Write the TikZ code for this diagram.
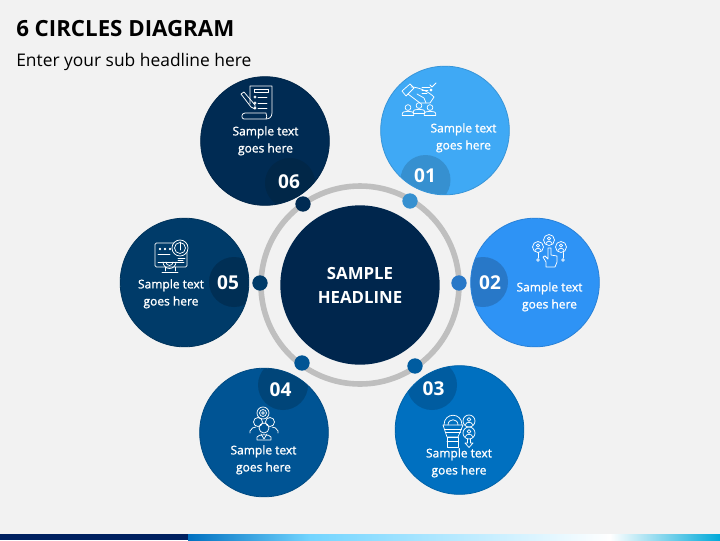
\documentclass[tikz,border=0pt]{standalone}
\usepackage{fontspec}
\setmainfont{Open Sans}
\newfontfamily\semi[FakeBold=1.2]{Open Sans}
\definecolor{bgc}{HTML}{F2F2F2}
\definecolor{cA}{HTML}{3FA9F5}\definecolor{dA}{HTML}{3690D0}
\definecolor{cB}{HTML}{2E93F5}\definecolor{dB}{HTML}{2878C8}
\definecolor{cC}{HTML}{0070C0}\definecolor{dC}{HTML}{005CA0}
\definecolor{cD}{HTML}{005494}\definecolor{dD}{HTML}{004579}
\definecolor{cE}{HTML}{003B69}\definecolor{dE}{HTML}{002F55}
\definecolor{cF}{HTML}{002B53}\definecolor{dF}{HTML}{012748}
\definecolor{cHub}{HTML}{00264D}
\definecolor{ringc}{HTML}{BFBFBF}
\tikzset{
  x=0.75pt,y=-0.75pt,
  bigc/.style={circle,inner sep=0pt,minimum size=96.5pt,draw=#1!88!black,line width=0.6pt,fill=#1},
  dot/.style={circle,inner sep=0pt,minimum size=11.5pt,fill=#1},
  bodytxt/.style={text=white,align=center,font=\semi\fontsize{9}{12.8}\selectfont},
  numtxt/.style={text=white,font=\bfseries\fontsize{14.3}{16}\selectfont},
  ico/.style={draw=white,line width=0.55pt,line join=round,line cap=round}
}
\newcommand\iconperson[3]{%
  \begin{scope}[shift={(#1,#2)},scale=#3]
  \draw[ico] (0,-3) circle [radius=2.5];
  \draw[ico] (-5,4) -- (-5,2.5) .. controls (-5,0.5) and (-2,0.3) .. (0,0.3) .. controls (2,0.3) and (5,0.5) .. (5,2.5) -- (5,4) -- cycle;
  \end{scope}}
\newcommand\badge[4]{%
  \begin{scope}
  \clip (#1,#2) circle [radius=64];
  \fill[#3] (#4) circle [radius=25];
  \end{scope}}
\begin{document}
\begin{tikzpicture}
\useasboundingbox (0,0) rectangle (720,540);
\fill[bgc] (0,0) rectangle (720,540);
% footer band
\fill[color={rgb,255:red,0;green,32;blue,96}] (0,534) rectangle (188,540);
\shade[left color=cC,right color=cyan!70!blue!55] (188,534) rectangle (310,540);
\shade[left color=cyan!70!blue!55,right color=white] (310,534) rectangle (610,540);
\shade[left color=white,right color=cC!60!cyan] (610,534) rectangle (720,540);
% title
\node[anchor=base west,inner sep=0pt,font=\bfseries\fontsize{16.7}{20}\selectfont,text=black] (title) at (16,36) {6 CIRCLES DIAGRAM};
\node[anchor=base west,inner sep=0pt,font=\fontsize{13.05}{16}\selectfont,text=black] (subtitle) at (16,66) {Enter your sub headline here};
% ring and hub
\draw[ringc,line width=4.2pt] (360,285) circle [radius=99];
\node[circle,inner sep=0pt,minimum size=119.5pt,fill=cHub,align=center,text=white,font=\bfseries\fontsize{12.6}{18}\selectfont] (hub) at (360,285) {SAMPLE\\HEADLINE};
% big circles
\node[bigc=cF] (c6) at (265,141) {};
\node[bigc=cA] (c1) at (445,130.5) {};
\node[bigc=cB] (c2) at (535,282.5) {};
\node[bigc=cC] (c3) at (459.5,430) {};
\node[bigc=cD] (c4) at (264,432.5) {};
\node[bigc=cE] (c5) at (184.5,282.5) {};
% badges
\badge{265}{141}{dF}{290,183}
\badge{445}{130.5}{dA}{425.5,180}
\badge{535}{282.5}{dB}{483,282}
\badge{459.5}{430}{dC}{432,385}
\badge{264}{432.5}{dD}{283,385}
\badge{184.5}{282.5}{dE}{234,282}
% dots
\node[dot=cF] (d6) at (303,204) {};
\node[dot=dA] (d1) at (410,201) {};
\node[dot=dB] (d2) at (459,283) {};
\node[dot=dC] (d3) at (415,366) {};
\node[dot=cD] (d4) at (302,363) {};
\node[dot=cE] (d5) at (260,283) {};
% numbers
\node[numtxt] (n6) at (289,181.7) {06};
\node[numtxt] (n1) at (425,175.7) {01};
\node[numtxt] (n2) at (490,282.7) {02};
\node[numtxt] (n3) at (433.5,388.7) {03};
\node[numtxt] (n4) at (280.5,389.7) {04};
\node[numtxt] (n5) at (228,282.7) {05};
% texts
\node[bodytxt] (t6) at (265.5,140.8) {Sample text\\goes here};
\node[bodytxt] (t1) at (463.5,137.8) {Sample text\\goes here};
\node[bodytxt] (t2) at (549.5,296.8) {Sample text\\goes here};
\node[bodytxt] (t3) at (459,462.8) {Sample text\\goes here};
\node[bodytxt] (t4) at (263.5,459.8) {Sample text\\goes here};
\node[bodytxt] (t5) at (171,293.8) {Sample text\\goes here};
% icon 06: checklist and pencil
\draw[ico] (250,104) -- (250,86) -- (272,86) -- (272,113) .. controls (272,118) and (268,119) .. (266,119) -- (244,119) .. controls (241,119) and (241,113) .. (245,113) -- (266,113) .. controls (266,116) and (268,118) .. (266,119);
\draw[ico] (254,89) rectangle (268,92);
\foreach \yy in {97,103,108}{\draw[ico] (255,\yy) circle [radius=1.2]; \draw[ico] (258,\yy) -- (267,\yy);}
\draw[ico] (241,94) -- (244,92) -- (255,105) -- (255,109) -- (251,107) -- cycle;
% icon 01: hand over people
\draw[ico] (402,91) -- (410,84) -- (414,88) -- (406,96) -- cycle;
\draw[ico] (411,87) .. controls (418,87) and (428,91) .. (434,97) -- (430,103) -- (420,103) -- (408,94);
\draw[ico] (417,94) -- (424,98) -- (426,103);
\iconperson{408}{111}{1.15}
\iconperson{419}{109}{1.15}
\iconperson{430}{111}{1.15}
\draw[ico] (422,87) -- (430,87) (422,90) -- (428,90) (422,93) -- (427,93);
\draw[ico] (431,90) circle [radius=1];
\draw[ico] (430,85) -- (432,87) -- (436,83);
% icon 02: people network and hand
\foreach \xx/\yy in {538/247,549/240,561/247}{
  \draw[ico] (\xx,\yy) circle [radius=5.5];
  \draw[ico] (\xx,\yy-1.5) circle [radius=1.6];
  \draw[ico] (\xx-3,\yy+3.5) .. controls (\xx-2,\yy+0.5) and (\xx+2,\yy+0.5) .. (\xx+3,\yy+3.5);
}
\draw[ico] (538,252.5) -- (538,258) (563,252.5) -- (563,258);
\draw[ico] (538,260) circle [radius=1.4] (563,260) circle [radius=1.4];
\draw[ico] (546,267) -- (546,262) -- (543,257) -- (545,256) -- (548,259) -- (548,248) -- (551,248) -- (551,255) -- (557,256) -- (557,262) -- (555,267) -- cycle;
% icon 03: gear cup and people
\draw[ico] (444,425) .. controls (444,412) and (462,412) .. (462,425);
\draw[ico] (448,425) .. controls (448,418) and (458,418) .. (458,425);
\draw[ico] (443,425) -- (463,425) -- (458,437) -- (447,437) -- cycle;
\draw[ico] (444.5,429) -- (461.5,429) (445.5,432) -- (460.5,432);
\draw[ico] (447,437) rectangle (458,447);
\draw[ico] (447,441) -- (458,441);
\foreach \yy in {421,433}{
  \draw[ico] (469,\yy) circle [radius=6];
  \draw[ico] (469,\yy-1.5) circle [radius=1.8];
  \draw[ico] (465.5,\yy+3.5) .. controls (466,\yy+0.5) and (472,\yy+0.5) .. (472.5,\yy+3.5);
}
\draw[ico] (467.5,439) -- (467.5,443) -- (465,443) -- (469,447.5) -- (473,443) -- (470.5,443) -- (470.5,439);
% icon 04: gear and team
\draw[ico] (263,413) circle [radius=6] (263,413) circle [radius=3.5] (263,413) circle [radius=1.3];
\draw[ico] (258,422) circle [radius=4.5] (270,422) circle [radius=4.5];
\draw[ico] (250,433) -- (250,431) .. controls (251,428) and (254,427) .. (256,427);
\draw[ico] (278,433) -- (278,431) .. controls (277,428) and (274,427) .. (272,427);
\draw[ico] (264,428) circle [radius=5];
\draw[ico] (257,440) -- (257,437) .. controls (258,434) and (270,434) .. (271,437) -- (271,440) -- cycle;
\draw[ico] (261,434) -- (264,439) -- (267,434);
% icon 05: monitor and gauge
\draw[ico,rounded corners=1pt] (155,243) rectangle (187,267);
\draw[ico] (165,267) -- (165,271) (175,267) -- (175,271) (162,272.5) -- (178,272.5);
\draw[ico] (158,262) -- (184,262);
\draw[ico] (163,262) arc [start angle=180,end angle=0,radius=6.5];
\draw[ico] (166,262) arc [start angle=180,end angle=0,radius=3.5];
\foreach \xx in {160,165,170}{\draw[ico] (\xx,249) circle [radius=0.8];}
\draw[ico] (158,254) -- (170,254);
\draw[ico,fill=cE] (180,248) circle [radius=8];
\draw[ico] (180,248) circle [radius=5.5];
\draw[ico] (180,242) -- (180,250);
\draw[ico] (178,258) -- (185,258) (178,260) -- (183,260);
\end{tikzpicture}
\end{document}
